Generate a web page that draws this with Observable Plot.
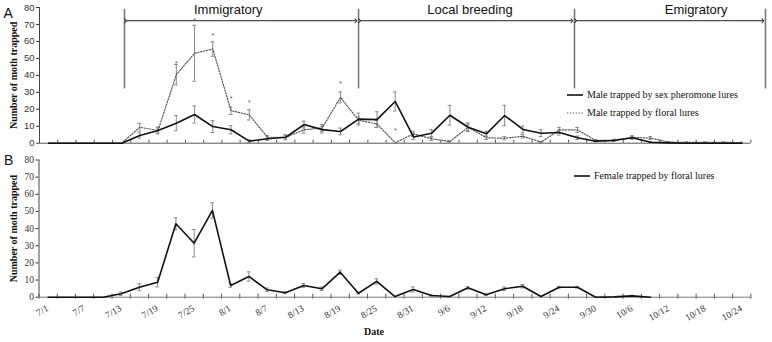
<!DOCTYPE html>
<html>
<head>
<meta charset="utf-8">
<script src="https://cdn.jsdelivr.net/npm/d3@7"></script>
<script src="https://cdn.jsdelivr.net/npm/@observablehq/plot@0.6"></script>
<style>
  body { margin: 0; background: #fff; }
  #chart { position: relative; width: 772px; height: 342px; background: #fff; }
  #chart svg { display: block; }
  .legend { position: absolute; display: flex; align-items: center; white-space: nowrap;
            font-family: "Liberation Serif", "Times New Roman", serif; font-size: 10px; color: #111; }
</style>
</head>
<body>
<div id="chart"></div>
<script>
// Trap inspection dates (every third day)
const dates = ["7/1","7/4","7/7","7/10","7/13","7/16","7/19","7/22","7/25","7/28",
  "8/1","8/4","8/7","8/10","8/13","8/16","8/19","8/22","8/25","8/28",
  "8/31","9/3","9/6","9/9","9/12","9/15","9/18","9/21","9/24","9/27",
  "9/30","10/3","10/6","10/9","10/12","10/15","10/18","10/21","10/24"];

// A: males trapped by sex pheromone lures (mean, SE)
const pheromone = [0,0,0,0,0,4.5,7.5,11.8,16.9,9.8,
  7.9,1.2,2.6,3.5,11,8,6.9,14.2,13.9,24.6,
  3.7,5.9,16.5,9.4,5.5,16.3,8.1,5.9,6.3,3.2,
  1.2,1.6,3.2,0.6,0.2,0,0,0,0];
const pheromoneErr = [0,0,0,0,0,1.5,1.5,4.5,5,3.5,
  2.5,0.8,1,1,2,2,2,3.5,4.6,5.6,
  1.5,2,5.8,2.5,1.5,6,2,2,1.5,1,
  0.5,0.5,0.8,0.3,0,0,0,0,0];

// A: males trapped by floral lures (mean, SE)
const floral = [0,0,0,0,0,9.4,7.5,40.4,53,55.5,
  19.2,16.7,3.5,3.5,7.9,9,27,13.5,11.4,0.3,
  5.5,2.6,1,9.4,3.2,2.9,4.1,0.6,7.8,7.8,
  1.6,1.8,3.4,3,0.6,0.5,0.5,0.5,0.3];
const floralErr = [0,0,0,0,0,2.3,2,6,16.5,4.2,
  2.2,3,1,1.5,2,2,3.2,2,2,0,
  1.5,1,0.5,2,1,1,1,0.3,1.5,1.5,
  0.5,0.5,1,0.8,0.3,0.3,0.3,0.3,0.3];

// Dates where floral and pheromone catches differ significantly, with marker level
const significant = [7, 8, 9, 10, 11, 16, 19];
const significantLevel = [48.2, 73.4, 64.5, 27.5, 25, 36.5, 8.8];

// B: females trapped by floral lures (mean, SE)
const female = [0,0,0,0,2,5.8,8.7,42.8,31.5,50.6,
  6.8,12.1,4.3,2.6,6.8,4.9,14.6,2.3,9.2,0.4,
  4.5,1,0.4,5.5,1.4,4.9,6.4,0.4,5.8,5.8,
  0,0.2,0.8,0];
const femaleErr = [0,0,0,0,1,2,2.7,3.5,8,4.5,
  1,2.7,1,0.5,1.2,1,1.2,0.5,1.5,0,
  1.5,0.4,0,0.8,0.4,1,1,0,0.5,0.5,
  0,0,0.3,0];

// Migration phases (in date-index units)
const phaseNames = ["Immigratory", "Local breeding", "Emigratory"];
const phaseEdges = [4.16, 16.99, 28.83, 39.3];
const phaseLabelAt = [9.85, 23.1, 35.5];

const yTicks = [0, 10, 20, 30, 40, 50, 60, 70, 80];

// ---- derived tables ----
const maleRows = dates.map((d, i) => ({i, date: d, pher: pheromone[i], pherErr: pheromoneErr[i], floral: floral[i], floralErr: floralErr[i]}));
const femaleRows = female.map((v, i) => ({i, date: dates[i], v, e: femaleErr[i]}));
const sigRows = significant.map((i, k) => ({i, level: significantLevel[k]}));
const phases = phaseNames.map((name, k) => ({name, from: phaseEdges[k], to: phaseEdges[k + 1], labelAt: phaseLabelAt[k]}));

const xDomain = [-0.5, dates.length - 0.5];
const boundaries = d3.range(dates.length + 1).map(k => k - 0.5);
const labelIdx = dates.map((d, i) => i).filter(i => i % 2 === 0);

const SANS = "Liberation Sans, Arial, sans-serif";
const SERIF = "Liberation Serif, Times New Roman, serif";
const capHalf = 0.1;
const errStroke = "#8a8a8a";
const arrowLevel = 72.2, ruleLow = 32, ruleHigh = 79, phaseTextLevel = 78.8;

function errorBars(rows, vKey, eKey) {
  const r = rows.filter(d => d[eKey] > 0);
  return [
    Plot.ruleX(r, {x: "i", y1: d => d[vKey] - d[eKey], y2: d => d[vKey] + d[eKey], stroke: errStroke, strokeWidth: 1}),
    Plot.ruleY(r, {y: d => d[vKey] + d[eKey], x1: d => d.i - capHalf, x2: d => d.i + capHalf, stroke: errStroke, strokeWidth: 1}),
    Plot.ruleY(r, {y: d => Math.max(0, d[vKey] - d[eKey]), x1: d => d.i - capHalf, x2: d => d.i + capHalf, stroke: errStroke, strokeWidth: 1})
  ];
}

const chart = document.getElementById("chart");

// ---- Panel A ----
const panelA = Plot.plot({
  width: 772, height: 150,
  marginLeft: 39, marginRight: 21.6, marginTop: 7, marginBottom: 7.3,
  x: {domain: xDomain},
  y: {domain: [0, 80]},
  style: {background: "transparent", overflow: "visible"},
  marks: [
    Plot.axisY({ticks: yTicks, tickSize: 3, tickPadding: 2, label: null, fontFamily: SANS, fontSize: 9.5, color: "#333"}),
    Plot.axisX({ticks: boundaries, tickSize: 3, dy: -3, tickFormat: () => "", label: null, color: "#555"}),
    Plot.ruleX([xDomain[0]], {stroke: "#444"}),
    Plot.ruleY([0], {stroke: "#555"}),
    // phases
    Plot.ruleX(phaseEdges, {y1: ruleLow, y2: ruleHigh, stroke: "#7a7a7a", strokeWidth: 1.6}),
    Plot.link(phases, {x1: d => d.from + 0.06, x2: d => d.to - 0.14, y1: arrowLevel, y2: arrowLevel,
      stroke: "#222", strokeWidth: 1, markerStart: "arrow", markerEnd: "arrow"}),
    Plot.text(phases, {x: "labelAt", y: phaseTextLevel, text: "name", fontFamily: SANS, fontSize: 13, fill: "#111"}),
    // error bars
    ...errorBars(maleRows, "floral", "floralErr"),
    ...errorBars(maleRows, "pher", "pherErr"),
    // series
    Plot.line(maleRows, {x: "i", y: "floral", stroke: "#555", strokeWidth: 1.2, strokeDasharray: "1.3 1.6"}),
    Plot.line(maleRows, {x: "i", y: "pher", stroke: "#111", strokeWidth: 1.6}),
    Plot.text(sigRows, {x: "i", y: "level", text: () => "*", fontFamily: SANS, fontSize: 8, fill: "#666", dy: 2}),
    // panel letter and y label
    Plot.text(["A"], {frameAnchor: "top-left", text: d => d, dx: -36, dy: 1, textAnchor: "start", fontFamily: SANS, fontSize: 14, fill: "#111"}),
    Plot.text(["Number of moth trapped"], {frameAnchor: "left", text: d => d, rotate: -90, textAnchor: "middle", dx: -26,
      fontFamily: SERIF, fontWeight: "bold", fontSize: 10, fill: "#111"})
  ]
});
chart.append(panelA);

// ---- Panel B ----
const panelB = Plot.plot({
  width: 772, height: 192,
  marginLeft: 38.5, marginRight: 21.6, marginTop: 9.5, marginBottom: 45.3,
  x: {domain: xDomain},
  y: {domain: [0, 80]},
  style: {background: "transparent", overflow: "visible"},
  marks: [
    Plot.axisY({ticks: yTicks, tickSize: 3, tickPadding: 2, label: null, fontFamily: SERIF, fontSize: 9.5, color: "#333"}),
    Plot.axisX({ticks: boundaries, tickSize: 5, dy: -3, tickFormat: () => "", label: null, color: "#555"}),
    Plot.ruleX([xDomain[0]], {stroke: "#444"}),
    Plot.ruleY([0], {stroke: "#777"}),
    Plot.text(labelIdx, {x: d => d, text: d => dates[d], frameAnchor: "bottom", rotate: -30, textAnchor: "end",
      dy: 13, dx: 1, fontFamily: SERIF, fontSize: 9.5, fill: "#333"}),
    ...errorBars(femaleRows, "v", "e"),
    Plot.line(femaleRows, {x: "i", y: "v", stroke: "#111", strokeWidth: 1.6}),
    Plot.text(["B"], {frameAnchor: "top-left", text: d => d, dx: -35, dy: -4.5, textAnchor: "start", fontFamily: SANS, fontSize: 14, fill: "#111"}),
    Plot.text(["Number of moth trapped"], {frameAnchor: "left", text: d => d, rotate: -90, textAnchor: "middle", dx: -25.5,
      fontFamily: SERIF, fontWeight: "bold", fontSize: 10, fill: "#111"}),
    Plot.text(["Date"], {frameAnchor: "bottom", text: d => d, dx: -21, dy: 38, fontFamily: SERIF, fontWeight: "bold", fontSize: 10, fill: "#111"})
  ]
});
chart.append(panelB);

// ---- legends ----
function legendItem(x, y, label, dashed) {
  const el = document.createElement("div");
  el.className = "legend";
  el.style.left = x + "px";
  el.style.top = (y - 7) + "px";
  const line = dashed
    ? `<line x1="0" x2="16" y1="7" y2="7" stroke="#555" stroke-width="1.2" stroke-dasharray="1.3 1.6"/>`
    : `<line x1="0" x2="16" y1="7" y2="7" stroke="#111" stroke-width="1.6"/>`;
  el.innerHTML = `<svg width="16" height="14" style="display:block">${line}</svg><span style="margin-left:4px;line-height:14px">${label}</span>`;
  chart.append(el);
}
legendItem(567, 95, "Male trapped by sex pheromone lures", false);
legendItem(567, 113, "Male trapped by floral lures", true);
legendItem(574, 176, "Female trapped by floral lures", false);
</script>
</body>
</html>
